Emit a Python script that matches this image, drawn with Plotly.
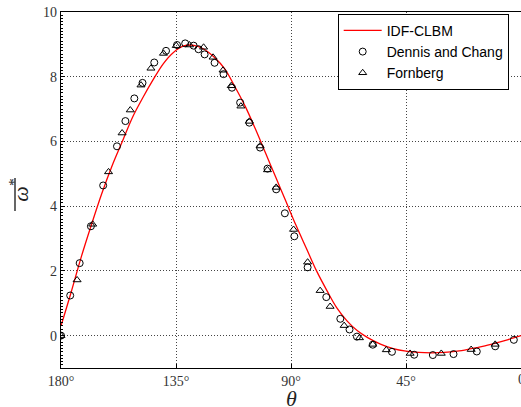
import plotly.graph_objects as go

# IDF-CLBM curve (theta in degrees, vorticity)
curve_theta = [180, 176, 172, 168, 164, 160, 156, 152, 148, 144, 140, 136, 132, 128, 124,
               120, 116, 112, 108, 104, 100, 96, 92, 88, 84, 80, 76, 72, 68, 64, 60,
               55, 50, 45, 40, 35, 30, 25, 20, 15, 10, 5, 0]
curve_w = [0.30, 1.35, 2.45, 3.45, 4.40, 5.25, 6.00, 6.75, 7.35, 7.90, 8.40, 8.75, 8.95, 8.97, 8.85,
           8.60, 8.25, 7.70, 7.10, 6.40, 5.65, 4.90, 4.15, 3.40, 2.70, 2.00, 1.40, 0.85, 0.45, 0.15, -0.06,
           -0.26, -0.40, -0.48, -0.52, -0.53, -0.52, -0.48, -0.41, -0.33, -0.23, -0.12, 0.00]

# Dennis and Chang (circles)
dc_theta = [180, 176.4, 172.7, 168.3, 163.5, 158.1, 154.8, 151.3, 148.1, 143.5, 138.9, 134.6,
            131.4, 128.1, 126.2, 123.8, 119.9, 116.4, 113.1, 109.9, 106.3, 102.1, 99.2, 95.8,
            92.4, 88.7, 83.5, 76.2, 70.7, 67.1, 64.2, 58.0, 50.5, 41.8, 34.5, 26.4, 17.3, 10.1, 2.8]
dc_w = [0.0, 1.24, 2.24, 3.38, 4.64, 5.85, 6.63, 7.33, 7.81, 8.44, 8.80, 8.98,
        9.03, 8.96, 8.85, 8.69, 8.43, 8.08, 7.66, 7.20, 6.58, 5.81, 5.16, 4.52,
        3.78, 3.07, 2.11, 1.19, 0.52, 0.19, -0.03, -0.28, -0.50, -0.59, -0.60, -0.57, -0.49, -0.33, -0.13]

# Fornberg (triangles)
fb_theta = [180, 173.7, 167.6, 161.4, 156.1, 152.9, 148.7, 144.8, 139.9, 134.9, 129.7, 124.2,
            120.5, 116.6, 113.4, 109.6, 106.3, 102.1, 99.2, 95.8, 89.0, 83.5, 78.6, 74.7,
            69.2, 63.2, 58.0, 52.7, 43.4, 31.2, 19.5, 10.1]
fb_w = [0.0, 1.72, 3.44, 5.06, 6.26, 6.97, 7.74, 8.26, 8.72, 8.96, 8.98, 8.91,
        8.60, 8.20, 7.72, 7.09, 6.62, 5.86, 5.12, 4.58, 3.28, 2.27, 1.39, 0.90,
        0.31, -0.07, -0.27, -0.44, -0.55, -0.55, -0.43, -0.27]

x_ticks = [180, 135, 90, 45]
x_labels = ["180°", "135°", "90°", "45°"]
x_grid = [180, 135, 90, 45, 0]
y_ticks = [0, 2, 4, 6, 8, 10]

serif = "Liberation Serif"

fig = go.Figure()
fig.add_trace(go.Scatter(x=curve_theta, y=curve_w, mode="lines", name="IDF-CLBM",
                         line=dict(color="red", width=1.3, shape="spline", smoothing=1.0)))
fig.add_trace(go.Scatter(x=dc_theta, y=dc_w, mode="markers", name="Dennis and Chang",
                         marker=dict(symbol="circle-open", size=7, color="black",
                                     line=dict(width=1, color="black"))))
fig.add_trace(go.Scatter(x=fb_theta, y=fb_w, mode="markers", name="Fornberg",
                         marker=dict(symbol="triangle-up-open", size=7, color="black",
                                     line=dict(width=1, color="black"))))

# right-most tick label "0" (partly outside the figure in the reference)
fig.add_annotation(x=0, y=0, xref="x", yref="paper", yanchor="top", xanchor="center",
                   yshift=-2, text="0", showarrow=False,
                   font=dict(family=serif, size=14, color="#333"))

# x-axis title
fig.add_annotation(x=0.5, y=0, xref="paper", yref="paper", yanchor="middle", xanchor="center",
                   yshift=-30, text="<i>θ</i>", showarrow=False,
                   font=dict(family=serif, size=22, color="#222"))

# overline of the y-axis symbol
fig.add_shape(type="line", xref="paper", yref="paper",
              x0=-0.1, x1=-0.1, y0=0.441, y1=0.534,
              line=dict(color="black", width=1.2))

fig.update_layout(
    width=521, height=407,
    margin=dict(l=61, r=0, t=12, b=39),
    paper_bgcolor="white", plot_bgcolor="white",
    font=dict(family=serif, color="#222", size=14),
    showlegend=True,
    legend=dict(x=0.6015, y=0.995, xanchor="left", yanchor="top",
                bordercolor="black", borderwidth=1, bgcolor="white",
                font=dict(family="Liberation Sans", size=14, color="black"),
                itemwidth=38, tracegroupgap=0),
    xaxis=dict(range=[180, 0], tickvals=x_ticks, ticktext=x_labels, automargin=False,
               showline=True, linecolor="black", linewidth=1.3, mirror=True,
               ticks="inside", ticklen=4, tickcolor="black",
               showgrid=False, zeroline=False,
               tickfont=dict(family=serif, size=14, color="#333"),
               minor=dict(tickvals=x_grid, ticks="", showgrid=True, gridcolor="#444",
                          griddash="1px,2px", gridwidth=1)),
    yaxis=dict(range=[-1, 10], tickvals=y_ticks, automargin=False,
               showline=True, linecolor="black", linewidth=1.3, mirror=True,
               ticks="inside", ticklen=4, tickcolor="black",
               showgrid=True, gridcolor="#444", griddash="1px,2px", gridwidth=1,
               zeroline=False,
               tickfont=dict(family=serif, size=14, color="#333"),
               title=dict(text="<i>ω</i><sup>*</sup>", font=dict(family=serif, size=22, color="#222"), standoff=8),
               minor=dict(dtick=0.1, ticks="inside", ticklen=2, tickcolor="black", showgrid=False)),
)

fig.write_html("out.html")
